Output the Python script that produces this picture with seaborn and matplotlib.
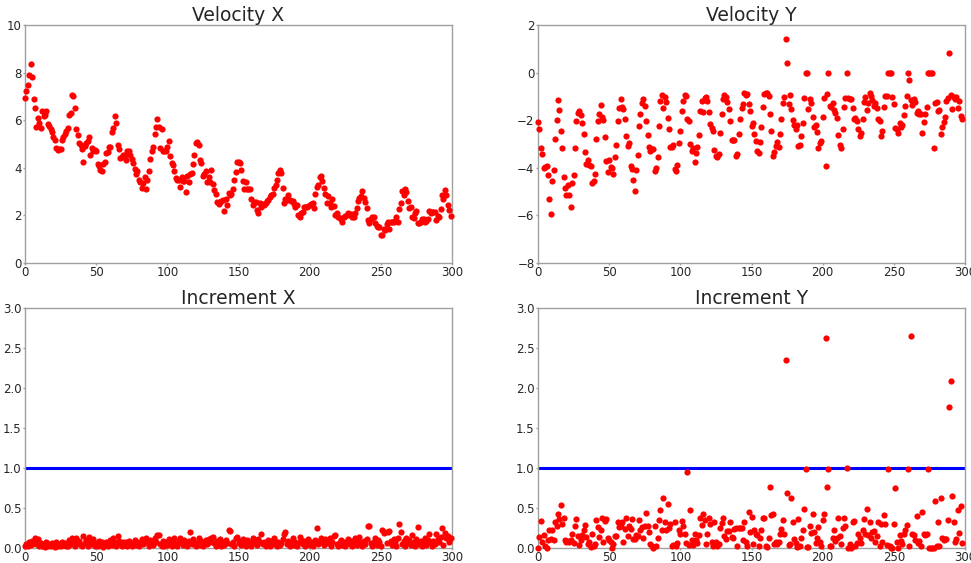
import numpy as np
import pandas as pd
import matplotlib
matplotlib.use("Agg")
import matplotlib.pyplot as plt
import seaborn as sns

# ---------------- data ----------------
vel_x = [
    6.93, 7.24, 7.5, 7.9, 8.36, 7.8, 6.89, 6.51, 5.71, 6.08,
    5.87, 5.69, 6.37, 6.18, 6.22, 6.37, 5.86, 5.77, 5.65, 5.51,
    5.31, 5.17, 4.82, 4.75, 4.80, 4.80, 5.17, 5.31, 5.42, 5.56,
    5.68, 6.22, 6.32, 7.06, 7.0, 6.5, 5.62, 5.37, 5.03, 4.96,
    4.78, 4.26, 4.93, 5.03, 5.12, 5.28, 4.54, 4.83, 4.71, 4.76,
    4.71, 4.14, 4.08, 3.89, 3.85, 4.17, 4.26, 4.61, 4.66, 4.86,
    4.86, 5.52, 5.69, 6.19, 5.90, 4.97, 4.79, 4.41, 4.47, 4.54,
    4.52, 4.31, 4.71, 4.71, 4.55, 4.38, 4.22, 3.93, 3.76, 3.87,
    3.48, 3.39, 3.17, 3.36, 3.61, 3.11, 3.48, 3.85, 4.36, 4.69,
    4.88, 5.42, 5.73, 6.03, 5.73, 4.82, 5.62, 4.69, 4.71, 4.71,
    4.88, 5.14,
    4.50, 4.21, 4.10, 3.88, 3.57, 3.49, 3.49, 3.21, 3.63, 3.43,
    3.46, 3.0, 3.66, 3.40, 3.74, 3.77, 4.15, 4.52, 5.03, 5.09,
    4.95, 4.33, 4.19, 3.67, 3.74, 3.88, 3.40, 3.63, 3.42, 3.91,
    3.32, 3.05, 2.90, 2.58, 2.48, 2.58, 2.62, 2.65, 2.20, 2.68,
    2.42, 2.95, 2.84, 2.90, 3.12, 3.49, 3.84, 4.23, 4.26, 4.20,
    3.92, 3.44, 3.09, 3.42, 3.11, 3.12, 3.12, 2.68, 2.42, 2.56,
    2.55, 2.23, 2.09, 2.51, 2.34, 2.48, 2.42, 2.54, 2.59, 2.65,
    2.79, 2.84, 2.90, 3.14, 3.29, 3.50, 3.80, 3.91, 3.80, 3.16,
    2.52, 2.68, 2.63, 2.87, 2.63, 2.62, 2.59, 2.48, 2.34, 2.42,
    2.00, 1.95, 2.12, 2.16, 2.37, 2.37, 2.37, 2.40, 2.42, 2.48,
    2.54,
    2.31, 2.90, 3.21, 3.28, 3.60, 3.66, 3.43, 3.14, 2.90, 2.54,
    2.81, 2.54, 2.37, 2.70, 2.40, 2.02, 2.09, 1.95, 1.89, 1.85,
    1.72, 1.92, 1.97, 2.02, 2.12, 2.02, 2.06, 1.95, 1.95, 2.12,
    2.30, 2.61, 2.72, 2.81, 3.04, 2.73, 2.56, 2.32, 1.80, 1.69,
    1.85, 1.95, 1.92, 1.66, 1.55, 1.52, 1.50, 1.16, 1.16, 1.41,
    1.39, 1.64, 1.74, 1.41, 1.74, 1.74, 1.74, 1.76, 1.92, 1.72,
    2.25, 2.54, 3.04, 2.86, 3.11, 2.97, 2.61, 2.30, 2.34, 1.95,
    1.91, 2.12, 2.19, 1.66, 1.66, 1.74, 1.86, 1.86, 1.71, 1.75,
    1.83, 2.17, 2.09, 2.14, 2.14, 2.16, 1.80, 1.97, 1.92, 2.25,
    2.86, 2.70, 3.07, 2.87, 2.45, 2.21, 1.96,
]

vel_y = [
    -2.08, -2.37, -3.17, -3.43, -3.99, -3.98, -3.92, -4.30, -5.32, -5.93,
    -4.54, -4.11, -2.78, -2.01, -1.15, -1.57, -2.44, -3.18, -4.39, -4.85,
    -5.13, -4.74, -5.13, -5.66, -4.62, -4.32, -3.15, -2.02, -1.70, -1.63,
    -1.80, -2.10, -2.58, -3.35, -3.84, -3.67, -3.90, -3.94, -4.65, -4.54,
    -4.27, -2.78, -2.05, -1.75, -1.36, -1.87, -2.01, -2.72, -3.70, -4.16,
    -3.67, -3.98, -4.02, -4.26, -3.56, -3.03, -2.02, -1.50, -1.10, -1.43,
    -1.54, -1.94, -2.65, -3.07, -2.97, -3.94, -4.05, -4.51, -4.97, -4.11,
    -3.48, -2.23, -1.73, -1.26, -1.12, -1.40, -2.02, -2.61, -3.14, -3.29,
    -3.20, -3.22, -4.12, -3.99, -3.53, -2.24, -1.19, -0.93, -1.50, -1.01,
    -1.24, -1.91, -2.38, -3.11, -3.14, -3.04, -4.05, -4.12, -3.87, -2.94,
    -2.44, -1.60,
    -1.18, -0.94, -1.0, -1.94, -2.02, -3.0, -3.29, -3.18, -3.74, -3.36,
    -3.14, -2.62, -1.63, -1.18, -1.66, -1.08, -1.01, -1.19, -1.66, -2.17,
    -2.34, -2.44, -3.25, -3.50, -3.53, -3.42, -2.55, -1.75, -1.11, -0.94,
    -1.04, -1.25, -1.53, -2.02, -2.85, -2.85, -2.85, -3.50, -3.42, -2.59,
    -1.96, -1.47, -1.32, -0.87, -0.93, -0.91, -1.33, -1.60, -2.24, -2.10,
    -2.58, -2.86, -3.29, -3.39, -2.93, -2.30, -1.46, -0.90, -0.87, -0.87,
    -0.98, -1.74, -2.45, -3.49, -3.34, -3.08, -2.93, -3.13, -2.57, -1.95,
    -1.26, -1.01, 1.40, 0.42, -1.32, -0.94, -1.52, -1.99, -2.22, -2.38,
    -2.22, -3.07, -3.04, -2.66, -2.10, -1.05, 0.0, 0.0, -1.53, -1.10,
    -1.29, -1.87, -2.27, -2.22, -2.50, -3.15, -2.94, -2.87, -1.88, -1.05,
    -3.91, -0.91, 0.0,
    -1.40, -1.46, -1.28, -1.57, -1.71, -1.91, -2.62, -3.03, -3.17, -2.36,
    -1.46, -1.05, 0.0, -1.07, -1.10, -1.11, -1.47, -1.95, -1.91, -2.02,
    -2.38, -2.68, -2.52, -1.95, -1.24, -1.04, -1.56, -1.28, -0.84, -0.98,
    -1.17, -1.42, -1.29, -1.50, -1.96, -2.05, -2.66, -2.45, -1.45, -1.0,
    -0.97, 0.0, 0.0, 0.0, -1.03, -1.33, -2.33, -2.36, -2.52, -2.12,
    -2.30, -2.19, -1.78, -1.42, -1.0, 0.0, -0.31, -1.14, -1.35, -1.12,
    -1.22, -1.71, -1.63, -1.74, -1.75, -2.54, -2.06, -1.75, -1.45, 0.0,
    0.0, 0.0, 0.0, -3.17, -1.26, -1.22, -1.63, -1.59, -2.59, -2.29,
    -2.08, -1.85, -1.21, -1.08, 0.82, -0.94, -1.54, -1.04, -1.12, -1.01,
    -1.49, -1.21, -1.82, -1.94,
]

inc_x = [
    0.02, 0.05, 0.03, 0.07, 0.04, 0.09, 0.06, 0.12, 0.05, 0.11,
    0.03, 0.06, 0.02, 0.04, 0.01, 0.08, 0.03, 0.05, 0.02, 0.06,
    0.04, 0.01, 0.07, 0.03, 0.05, 0.02, 0.08, 0.04, 0.06, 0.03,
    0.02, 0.10, 0.05, 0.13, 0.07, 0.03, 0.12, 0.06, 0.09, 0.04,
    0.02, 0.15, 0.06, 0.10, 0.03, 0.14, 0.08, 0.05, 0.11, 0.02,
    0.06, 0.03, 0.09, 0.04, 0.07, 0.01, 0.05, 0.08, 0.03, 0.06,
    0.10, 0.04, 0.13, 0.07, 0.02, 0.15, 0.09, 0.05, 0.03, 0.08,
    0.04, 0.07, 0.02, 0.09, 0.05, 0.03, 0.06, 0.10, 0.04, 0.08,
    0.02, 0.06, 0.11, 0.05, 0.09, 0.13, 0.07, 0.03, 0.10, 0.06,
    0.04, 0.12, 0.08, 0.16, 0.16, 0.05, 0.03, 0.09, 0.02, 0.07,
    0.04, 0.11, 0.06, 0.03, 0.08, 0.12, 0.05, 0.02, 0.09, 0.13,
    0.06, 0.04, 0.10, 0.07, 0.03, 0.09, 0.20, 0.05, 0.11, 0.08,
    0.02, 0.06, 0.12, 0.04, 0.09, 0.03, 0.07, 0.10, 0.05, 0.11,
    0.08, 0.13, 0.14, 0.06, 0.03, 0.09, 0.05, 0.11, 0.02, 0.07,
    0.04, 0.10, 0.06, 0.22, 0.21, 0.05, 0.08, 0.03, 0.12, 0.14,
    0.06, 0.09, 0.04, 0.11, 0.07, 0.02, 0.10, 0.05, 0.08, 0.03,
    0.12, 0.06, 0.09, 0.04, 0.11, 0.07, 0.18, 0.05, 0.08, 0.03,
    0.06, 0.10, 0.02, 0.09, 0.05, 0.12, 0.07, 0.03, 0.08, 0.04,
    0.06, 0.11, 0.17, 0.20, 0.05, 0.09, 0.03, 0.07, 0.12, 0.04,
    0.08, 0.02, 0.06, 0.14, 0.10, 0.05, 0.09, 0.03, 0.07, 0.11,
    0.04, 0.08, 0.02, 0.06, 0.10, 0.25, 0.05, 0.09, 0.13, 0.07,
    0.04, 0.11, 0.06, 0.09, 0.12, 0.03, 0.08, 0.15, 0.16, 0.05,
    0.02, 0.07, 0.10, 0.04, 0.08, 0.03, 0.06, 0.11, 0.05, 0.09,
    0.03, 0.07, 0.12, 0.04, 0.10, 0.14, 0.06, 0.02, 0.09, 0.05,
    0.11, 0.28, 0.27, 0.06, 0.03, 0.08, 0.13, 0.04, 0.10, 0.07,
    0.02, 0.22, 0.19, 0.20, 0.06, 0.20, 0.21, 0.09, 0.04, 0.11,
    0.07, 0.03, 0.12, 0.30, 0.20, 0.05, 0.09, 0.02, 0.13, 0.06,
    0.10, 0.04, 0.16, 0.08, 0.03, 0.11, 0.26, 0.05, 0.09, 0.02,
    0.07, 0.12, 0.04, 0.10, 0.18, 0.06, 0.03, 0.09, 0.05, 0.17,
    0.11, 0.07, 0.14, 0.25, 0.04, 0.19, 0.13, 0.15, 0.08, 0.12,
]

inc_y = [
    0.0, 0.14, 0.34, 0.08, 0.16, 0.02, 0.0, 0.10, 0.23, 0.11,
    0.23, 0.10, 0.32, 0.27, 0.42, 0.36, 0.54, 0.30, 0.38, 0.10,
    0.07, 0.09, 0.08, 0.10, 0.18, 0.06, 0.27, 0.36, 0.15, 0.04,
    0.10, 0.16, 0.22, 0.29, 0.14, 0.05, 0.07, 0.01, 0.17, 0.02,
    0.05, 0.35, 0.26, 0.14, 0.22, 0.37, 0.08, 0.34, 0.36, 0.12,
    0.10, 0.07, 0.0, 0.05, 0.15, 0.15, 0.33, 0.26, 0.27, 0.33,
    0.07, 0.24, 0.38, 0.15, 0.28, 0.24, 0.36, 0.11, 0.11, 0.16,
    0.15, 0.35, 0.22, 0.26, 0.13, 0.27, 0.44, 0.27, 0.20, 0.05,
    0.02, 0.0, 0.27, 0.02, 0.13, 0.35, 0.47, 0.23, 0.63, 0.33,
    0.23, 0.55, 0.25, 0.30, 0.02, 0.04, 0.33, 0.02, 0.06, 0.23,
    0.17, 0.34,
    0.28, 0.18, 0.06, 0.95, 0.04, 0.48, 0.10, 0.04, 0.18, 0.10,
    0.06, 0.16, 0.37, 0.29, 0.43, 0.35, 0.05, 0.17, 0.38, 0.30,
    0.08, 0.03, 0.33, 0.07, 0.03, 0.05, 0.25, 0.31, 0.37, 0.15,
    0.11, 0.21, 0.21, 0.32, 0.14, 0.13, 0.24, 0.25, 0.02, 0.25,
    0.25, 0.25, 0.10, 0.33, 0.08, 0.02, 0.45, 0.20, 0.39, 0.05,
    0.22, 0.17, 0.16, 0.02, 0.13, 0.22, 0.37, 0.38, 0.02, 0.01,
    0.12, 0.76, 0.41, 0.42, 0.05, 0.08, 0.05, 0.07, 0.17, 0.24,
    0.35, 0.18, 2.35, 0.69, 0.04, 0.05, 0.62, 0.33, 0.11, 0.06,
    0.01, 0.36, 0.02, 0.12, 0.22, 0.49, 0.99, 0.01, 0.01, 0.28,
    0.19, 0.43, 0.20, 0.06, 0.13, 0.26, 0.07, 0.02, 0.35, 0.43,
    2.63, 0.76, 0.99, 0.02, 0.03, 0.12, 0.23, 0.09, 0.12, 0.37,
    0.15, 0.05, 0.25, 0.38, 0.27, 1.0, 0.0, 0.05, 0.0, 0.32,
    0.34, 0.03, 0.06, 0.18, 0.12, 0.06, 0.23, 0.36, 0.17, 0.49,
    0.16, 0.33, 0.13, 0.20, 0.21, 0.08, 0.15, 0.33, 0.03, 0.30,
    0.07, 0.41, 0.30, 0.04, 0.99, 0.02, 0.0, 0.0, 0.30, 0.75,
    0.08, 0.0, 0.16, 0.09, 0.05, 0.18, 0.22, 0.29, 0.99, 0.02,
    2.65, 0.18, 0.16, 0.10, 0.40, 0.06, 0.09, 0.02, 0.45, 0.17,
    0.16, 0.17, 0.99, 0.0, 0.0, 0.0, 0.0, 0.59, 0.03, 0.32,
    0.02, 0.63, 0.12, 0.10, 0.11, 0.11, 0.35, 1.76, 2.09, 0.65,
    0.32, 0.08, 0.11, 0.48, 0.19, 0.53, 0.06,
]

threshold = 1.0
titles = ["Velocity X", "Velocity Y", "Increment X", "Increment Y"]
x_ticks = [0, 50, 100, 150, 200, 250, 300]

# ---------------- plotting ----------------
sns.set_theme(style="white")
plt.rcParams["font.family"] = ["DejaVu Sans"]

fig = plt.figure(figsize=(9.71, 5.63), dpi=100)
W, H = 971.0, 563.0
positions = [
    [25 / W, 1 - 263 / H, 427 / W, 238 / H],
    [538 / W, 1 - 263 / H, 427 / W, 238 / H],
    [25 / W, 1 - 548 / H, 427 / W, 240 / H],
    [538 / W, 1 - 548 / H, 427 / W, 240 / H],
]
axes = [fig.add_axes(p) for p in positions]

series = [vel_x, vel_y, inc_x, inc_y]
ylims = [(0, 10), (-8, 2), (0, 3.0), (0, 3.0)]
yticks = [
    [0, 2, 4, 6, 8, 10],
    [-8, -6, -4, -2, 0, 2],
    [0.0, 0.5, 1.0, 1.5, 2.0, 2.5, 3.0],
    [0.0, 0.5, 1.0, 1.5, 2.0, 2.5, 3.0],
]

for k, (ax, vals) in enumerate(zip(axes, series)):
    df = pd.DataFrame({"t": np.arange(len(vals)), "v": vals})
    if k >= 2:
        line_df = pd.DataFrame({"t": [0, 300], "v": [threshold, threshold]})
        sns.lineplot(data=line_df, x="t", y="v", ax=ax, color="#0000ff",
                     linewidth=2.2, zorder=2)
    sns.scatterplot(data=df, x="t", y="v", ax=ax, color="#ff0000", s=20,
                    linewidth=0, zorder=3, clip_on=False)
    ax.set_xlim(0, 300)
    ax.set_ylim(*ylims[k])
    ax.set_xticks(x_ticks)
    ax.set_yticks(yticks[k])
    if k >= 2:
        ax.set_yticklabels([f"{t:.1f}" for t in yticks[k]])
    ax.set_xlabel("")
    ax.set_ylabel("")
    ax.set_title(titles[k], fontsize=13.5, pad=1.5)
    for sp in ax.spines.values():
        sp.set_color("#a0a0a0")
        sp.set_linewidth(1.0)
    ax.tick_params(axis="both", which="both", direction="out", length=1.5,
                   width=1, color="#a0a0a0", labelsize=8.5, pad=1,
                   bottom=True, left=True)

fig.savefig("out.png", dpi=100)
